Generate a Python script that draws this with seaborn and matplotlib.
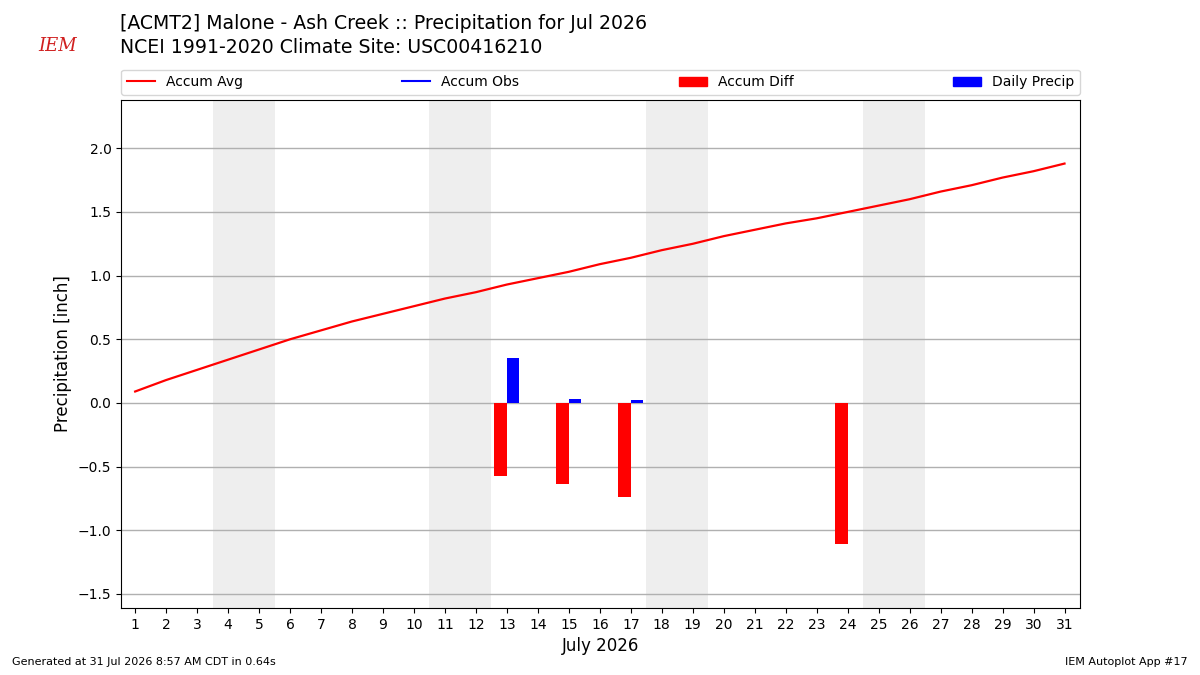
import numpy as np
import pandas as pd
import matplotlib
matplotlib.use("Agg")
import matplotlib.pyplot as plt
from matplotlib.lines import Line2D
from matplotlib.patches import Patch
import seaborn as sns

# 일별 데이터 (7월 2026)
days = list(range(1, 32))
accum_avg = [0.09, 0.18, 0.26, 0.34, 0.42, 0.50, 0.57, 0.64, 0.70, 0.76,
             0.82, 0.87, 0.93, 0.98, 1.03, 1.09, 1.14, 1.20, 1.25, 1.31,
             1.36, 1.41, 1.45, 1.50, 1.55, 1.60, 1.66, 1.71, 1.77, 1.82, 1.88]

# 강수 있는 날만 막대
diff_days = [13, 15, 17, 24]
accum_diff = [-0.57, -0.64, -0.74, -1.11]
precip_days = [13, 15, 17]
daily_precip = [0.35, 0.03, 0.02]

weekend_days = [4, 5, 11, 12, 18, 19, 25, 26]
yticks = [-1.5, -1.0, -0.5, 0.0, 0.5, 1.0, 1.5, 2.0]

df = pd.DataFrame({"day": days, "avg": accum_avg})

fig = plt.figure(figsize=(12, 6.75), dpi=100)
ax = fig.add_axes([0.101, 0.0993, 0.799, 0.7527])

# 주말 음영
for d in weekend_days:
    ax.axvspan(d - 0.5, d + 0.5, color="#eeeeee", lw=0, zorder=0)

ax.bar(np.array(diff_days) - 0.2, accum_diff, width=0.4, color="red", zorder=3)
ax.bar(np.array(precip_days) + 0.2, daily_precip, width=0.4, color="blue", zorder=3)
sns.lineplot(data=df, x="day", y="avg", color="red", lw=1.6, ax=ax, zorder=4)

ax.set_xlim(0.55, 31.5)
ax.set_ylim(-1.61, 2.38)
ax.set_xticks(days)
ax.set_yticks(yticks)
ax.tick_params(labelsize=10)
ax.grid(axis="y", color="#b0b0b0", lw=1, zorder=1)
ax.set_axisbelow(True)
ax.set_xlabel("July 2026", fontsize=12)
ax.set_ylabel("Precipitation [inch]", fontsize=12)

handles = [Line2D([], [], color="red", lw=1.5),
           Line2D([], [], color="blue", lw=1.5),
           Patch(color="red"), Patch(color="blue")]
labels = ["Accum Avg", "Accum Obs", "Accum Diff", "Daily Precip"]
ax.legend(handles, labels, loc="lower left", bbox_to_anchor=(0, 1.01, 1, 0.05),
          ncol=4, mode="expand", borderaxespad=0, fontsize=10)

fig.text(0.1, 0.965, "[ACMT2] Malone - Ash Creek :: Precipitation for Jul 2026",
         fontsize=13.6, va="center")
fig.text(0.1, 0.93, "NCEI 1991-2020 Climate Site: USC00416210",
         fontsize=13.6, va="center")
fig.text(0.032, 0.932, "IEM", fontsize=13, color="#d02020", style="italic",
         family="DejaVu Serif", va="center")

fig.text(0.01, 0.015, "Generated at 31 Jul 2026 8:57 AM CDT in 0.64s", fontsize=8)
fig.text(0.99, 0.015, "IEM Autoplot App #17", fontsize=8, ha="right")

fig.savefig("out.png", dpi=100)
